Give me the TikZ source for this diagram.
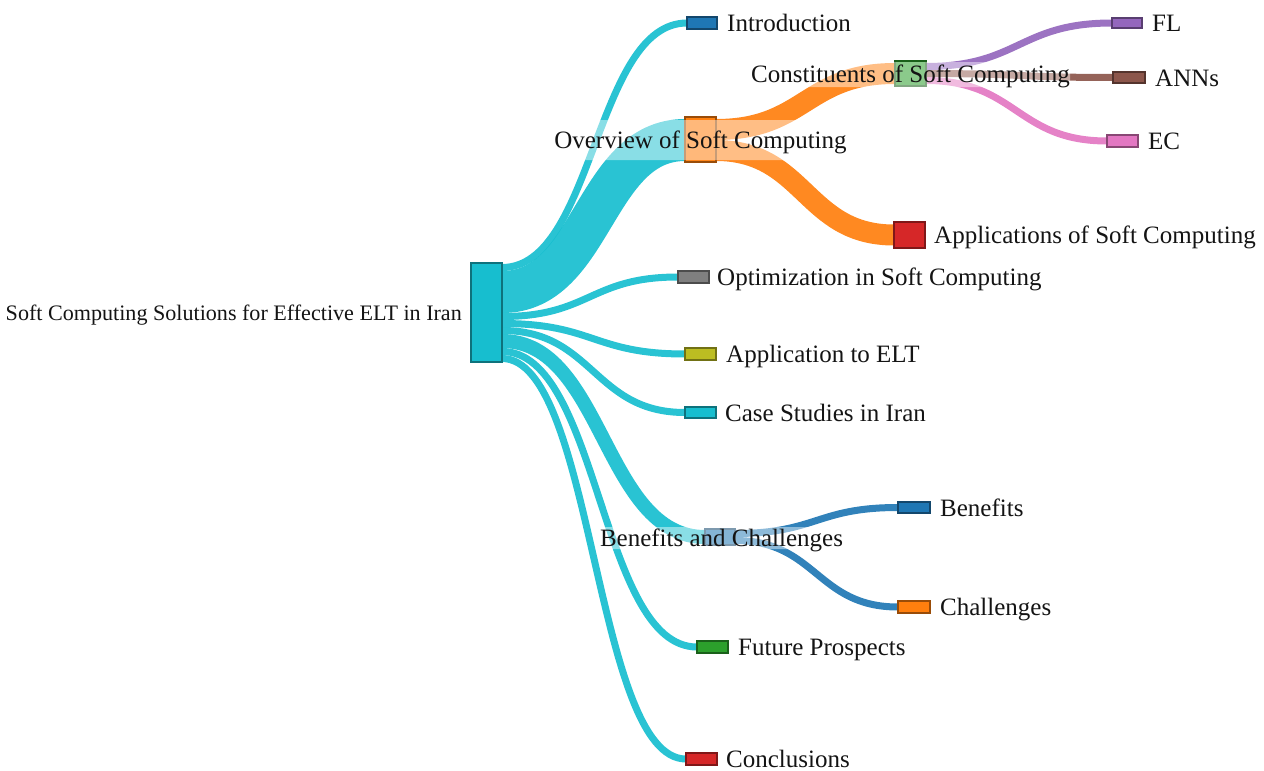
\documentclass[tikz,border=0pt]{standalone}
\usepackage{fontspec}
\setmainfont{Liberation Serif}
\definecolor{pcyan}{HTML}{17BECF}
\definecolor{pblue}{HTML}{1F77B4}
\definecolor{porange}{HTML}{FF7F0E}
\definecolor{pgreen}{HTML}{2CA02C}
\definecolor{pred}{HTML}{D62728}
\definecolor{ppurple}{HTML}{9467BD}
\definecolor{pbrown}{HTML}{8C564B}
\definecolor{ppink}{HTML}{E377C2}
\definecolor{pgray}{HTML}{7F7F7F}
\definecolor{polive}{HTML}{BCBD22}
% band: colour, x0, top0, bottom0, x1, top1, bottom1 (drawn as a stroke of constant width)
\newcommand\sband[7]{%
  \pgfmathsetmacro\xm{(#2+#5)/2}%
  \pgfmathsetmacro\ca{(#3+#4)/2}%
  \pgfmathsetmacro\cb{(#6+#7)/2}%
  \pgfmathsetmacro\lw{#4-#3}%
  \draw[#1, line width={\lw pt}, draw opacity=0.92] (#2,\ca) .. controls (\xm,\ca) and (\xm,\cb) .. (#5,\cb);}
% box node: name, colour, x0, y0, x1, y1
\newcommand\boxnode[6]{%
  \pgfmathsetmacro\bw{#5-#3}\pgfmathsetmacro\bh{#6-#4}%
  \pgfmathsetmacro\bx{(#3+#5)/2}\pgfmathsetmacro\by{(#4+#6)/2}%
  \node[sbox, draw=#2!60!black, fill=#2, minimum width={\bw pt}, minimum height={\bh pt}] (#1) at (\bx,\by) {};}
\begin{document}
\begin{tikzpicture}[x=1pt,y=-1pt,
  sbox/.style={line width=1.6pt, inner sep=0pt, rectangle},
  lbl/.style={font=\fontsize{25}{30}\selectfont, inner sep=0pt, text=black!92},
  halo/.style={fill=white, fill opacity=0.45, rounded corners=6pt}]
\useasboundingbox (0,0) rectangle (1264,771);
% links from the root
\sband{pcyan}{502}{264}{271}{687}{19.5}{26.5}
\sband{pcyan}{502}{271}{313}{685}{119}{161}
\sband{pcyan}{502}{313}{320}{678}{273.5}{280.5}
\sband{pcyan}{502}{320}{327}{685}{350.5}{357.5}
\sband{pcyan}{502}{327}{334}{685}{409}{416}
\sband{pcyan}{502}{334}{348}{705}{530}{544}
\sband{pcyan}{502}{348}{355}{697}{643.5}{650.5}
\sband{pcyan}{502}{355}{362}{686}{755.5}{762.5}
% overview links
\sband{porange}{716}{119}{140}{895}{63}{84}
\sband{porange}{716}{140}{161}{894}{224.5}{245.5}
% constituents links
\sband{ppurple}{926}{63}{70}{1112}{19.5}{26.5}
\sband{pbrown}{926}{70}{77}{1113}{74}{81}
\sband{ppink}{926}{77}{84}{1107}{137.5}{144.5}
% benefits and challenges links
\sband{pblue}{735}{530}{537}{898}{504}{511}
\sband{pblue}{735}{537}{544}{898}{603.5}{610.5}
% nodes
\boxnode{root}{pcyan}{471}{263}{502}{362}
\boxnode{intro}{pblue}{687}{17}{717}{29}
\boxnode{overview}{porange}{685}{117}{716}{162}
\boxnode{constituents}{pgreen}{895}{61}{926}{86}
\boxnode{applications}{pred}{894}{222}{925}{248}
\boxnode{fl}{ppurple}{1112}{18}{1142}{28}
\boxnode{anns}{pbrown}{1113}{72}{1145}{83}
\boxnode{ec}{ppink}{1107}{135}{1138}{147}
\boxnode{optim}{pgray}{678}{271}{709}{283}
\boxnode{applelt}{polive}{685}{348}{716}{360}
\boxnode{cases}{pcyan}{685}{407}{716}{418}
\boxnode{bc}{pblue}{705}{529}{735}{545}
\boxnode{benefits}{pblue}{898}{502}{930}{513}
\boxnode{challenges}{porange}{898}{601}{930}{613}
\boxnode{future}{pgreen}{697}{641}{728}{653}
\boxnode{concl}{pred}{686}{753}{717}{765}
% label halos of the middle nodes
\fill[halo] (558,120) rectangle (842,160);
\fill[halo] (751,62) rectangle (1070,87);
\fill[halo] (599,527) rectangle (844,549);
% labels
\node[lbl, font=\fontsize{22.1}{26}\selectfont, anchor=base east] (lroot) at (462,320.7) {Soft Computing Solutions for Effective ELT in Iran};
\node[lbl, anchor=base west] (lintro) at (727,31.7) {Introduction};
\node[lbl, anchor=base] (loverview) at (700.5,148.7) {Overview of Soft Computing};
\node[lbl, anchor=base] (lconst) at (910.5,82.7) {Constituents of Soft Computing};
\node[lbl, anchor=base west] (lfl) at (1152,31.7) {FL};
\node[lbl, anchor=base west] (lanns) at (1155,86.7) {ANNs};
\node[lbl, anchor=base west] (lec) at (1148,149.7) {EC};
\node[lbl, anchor=base west] (lappl) at (934,243.7) {Applications of Soft Computing};
\node[lbl, anchor=base west] (loptim) at (717,285.7) {Optimization in Soft Computing};
\node[lbl, anchor=base west] (lapplelt) at (726,362.7) {Application to ELT};
\node[lbl, anchor=base west] (lcases) at (725,421.7) {Case Studies in Iran};
\node[lbl, anchor=base] (lbc) at (721.5,546.7) {Benefits and Challenges};
\node[lbl, anchor=base west] (lben) at (940,516.7) {Benefits};
\node[lbl, anchor=base west] (lchal) at (940,615.7) {Challenges};
\node[lbl, anchor=base west] (lfut) at (738,655.7) {Future Prospects};
\node[lbl, anchor=base west] (lconcl) at (726,767.7) {Conclusions};
\end{tikzpicture}
\end{document}
